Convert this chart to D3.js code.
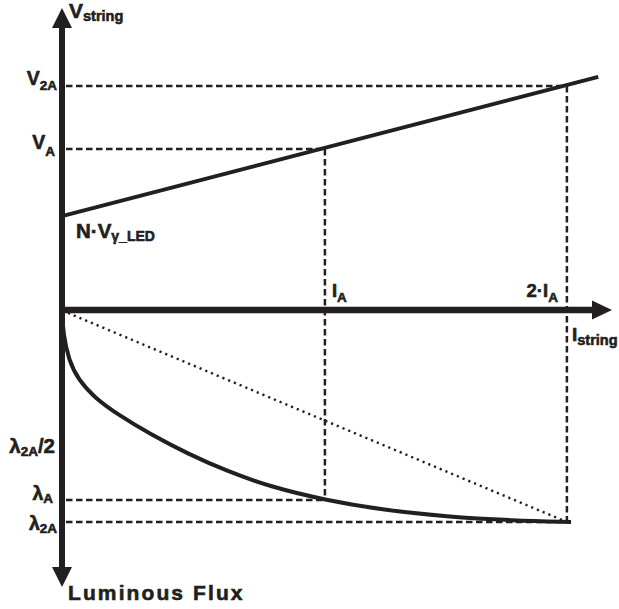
<!DOCTYPE html>
<html>
<head>
<meta charset="utf-8">
<script src="https://cdn.jsdelivr.net/npm/d3@7"></script>
<style>
  html, body { margin: 0; padding: 0; background: #fff; }
  svg { display: block; }
  text { font-family: "Liberation Sans", Arial, sans-serif; font-weight: bold; fill: #231f20; stroke: #231f20; stroke-width: 0.6px; }
</style>
</head>
<body>
<svg id="chart" width="619" height="609"></svg>
<script>
// ---------- data (arbitrary units) ----------
const currentTickLabels = ["I", "2·I"];          // main part of label, subscript "A"
const currentTickValues = [4.78, 9.18];           // I_A, 2·I_A
const voltageTickLabels = ["2A", "A"];            // V_2A, V_A (subscripts)
const voltageTickValues = [7.42, 5.33];
const voltageOffset = 3.11;                       // N·Vγ_LED
const voltageLineI = [0, 9.75];
const voltageLineV = [3.11, 7.72];
const fluxTickLabels = ["λ2A/2", "λA", "λ2A"];
const fluxTickValues = [0.65, 0.896, 1.0];
const fluxCurveI = [0, 0.02, 0.12, 0.3, 0.6, 1.0, 1.6, 2.3, 3.0, 3.8, 4.78, 5.8, 7.0, 8.2, 9.255];
const fluxCurveL = [0.0, 0.11, 0.235, 0.33, 0.415, 0.49, 0.585, 0.68, 0.76, 0.835, 0.896, 0.942, 0.975, 0.993, 1.0];

// ---------- scales ----------
const ink = "#231f20";
const x = d3.scaleLinear().domain([0, 10]).range([62, 612]);
const yV = d3.scaleLinear().domain([0, 10]).range([310, 8]);
const yF = d3.scaleLinear().domain([0, 1]).range([310, 522]);
const fluxMax = 1.307;

const svg = d3.select("#chart");
const g = svg.append("g");

// ---------- dashed guide lines ----------
function dline(x1, y1, x2, y2) {
  return g.append("line").attr("x1", x1).attr("y1", y1).attr("x2", x2).attr("y2", y2)
    .attr("stroke", ink).attr("stroke-width", 2.5).attr("stroke-dasharray", "6.5,3.5");
}
const [iA, i2A] = currentTickValues;
const [v2A, vA] = voltageTickValues;
const lA = fluxTickValues[1], l2A = fluxTickValues[2];

dline(x(0) + 4, yV(v2A), x(i2A), yV(v2A));
dline(x(0) + 4, yV(vA), x(iA), yV(vA));
dline(x(iA), yV(vA), x(iA), yF(lA));
dline(x(i2A), yV(v2A), x(i2A), yF(l2A));
dline(x(0) + 4, yF(lA), x(iA), yF(lA));
dline(x(0) + 4, yF(l2A), x(i2A), yF(l2A));

// dotted linear reference
g.append("line")
  .attr("x1", x(0) + 6).attr("y1", yF(0) + 3)
  .attr("x2", x(i2A)).attr("y2", yF(l2A))
  .attr("stroke", ink).attr("stroke-width", 2.4)
  .attr("stroke-dasharray", "2.2,4");

// ---------- voltage line ----------
g.append("line")
  .attr("x1", x(voltageLineI[0])).attr("y1", yV(voltageLineV[0]))
  .attr("x2", x(voltageLineI[1])).attr("y2", yV(voltageLineV[1]))
  .attr("stroke", ink).attr("stroke-width", 4);

// ---------- flux curve ----------
const fluxData = fluxCurveI.map((d, i) => [d, fluxCurveL[i]]);
g.append("path")
  .datum(fluxData)
  .attr("d", d3.line().x(d => x(d[0])).y(d => yF(d[1])).curve(d3.curveBasis))
  .attr("fill", "none").attr("stroke", ink).attr("stroke-width", 4);

// ---------- axes ----------
const ax = x(0), ay = yV(0);
const topTip = yV(10), botTip = yF(fluxMax), rightTip = x(10);
const ah = 20, aw = 10;
g.append("line").attr("x1", ax).attr("y1", topTip + ah - 1).attr("x2", ax).attr("y2", botTip - ah + 1)
  .attr("stroke", ink).attr("stroke-width", 6);
g.append("line").attr("x1", ax).attr("y1", ay).attr("x2", rightTip - ah + 1).attr("y2", ay)
  .attr("stroke", ink).attr("stroke-width", 6.5);
g.append("path").attr("d", `M${ax},${topTip}L${ax - aw},${topTip + ah}L${ax + aw},${topTip + ah}Z`).attr("fill", ink);
g.append("path").attr("d", `M${ax},${botTip}L${ax - aw},${botTip - ah}L${ax + aw},${botTip - ah}Z`).attr("fill", ink);
g.append("path").attr("d", `M${rightTip},${ay}L${rightTip - ah},${ay - 9.5}L${rightTip - ah},${ay + 9.5}Z`).attr("fill", ink);

// ---------- labels ----------
function label(xp, yp, parts, anchor, extraAttrs) {
  const t = g.append("text").attr("x", xp).attr("y", yp).attr("text-anchor", anchor || "start");
  parts.forEach(p => {
    const s = t.append("tspan").text(p.t).attr("font-size", p.s);
    if (p.dy) s.attr("dy", p.dy);
  });
  if (extraAttrs) Object.entries(extraAttrs).forEach(([k, v]) => t.attr(k, v));
  return t;
}

// axis titles
label(ax + 7, topTip + 10, [{ t: "V", s: 21 }, { t: "string", s: 14.5, dy: 3 }]);
label(x(10) - 40, ay + 31, [{ t: "I", s: 19 }, { t: "string", s: 14.5, dy: 4 }]);
label(ax + 6, botTip + 13, [{ t: "Luminous Flux", s: 21 }], "start", { "letter-spacing": 2.1 });

// voltage ticks
label(ax - 5, yV(v2A) - 1, [{ t: "V", s: 19.5 }, { t: voltageTickLabels[0], s: 13.5, dy: 5 }], "end");
label(ax - 7, yV(vA), [{ t: "V", s: 19.5 }, { t: voltageTickLabels[1], s: 13.5, dy: 7 }], "end");
label(ax + 14, yV(voltageOffset) + 22, [{ t: "N·V", s: 20.5 }, { t: "γ_LED", s: 14, dy: 3 }]);

// current ticks
label(x(iA) + 7, ay - 13, [{ t: currentTickLabels[0], s: 18.5 }, { t: "A", s: 13.5, dy: 5 }]);
label(x(i2A) - 9, ay - 13, [{ t: currentTickLabels[1], s: 18.5 }, { t: "A", s: 13.5, dy: 5 }], "end");

// flux ticks
label(ax - 7, yF(fluxTickValues[0]) + 5, [{ t: "λ", s: 20.5 }, { t: "2A", s: 13.5, dy: 3 }, { t: "/2", s: 20.5, dy: -3 }], "end");
label(ax - 9, yF(lA), [{ t: "λ", s: 19.5 }, { t: "A", s: 13.5, dy: 3 }], "end");
label(ax - 5, yF(l2A) + 8, [{ t: "λ", s: 19.5 }, { t: "2A", s: 13.5, dy: 3 }], "end");
</script>
</body>
</html>
